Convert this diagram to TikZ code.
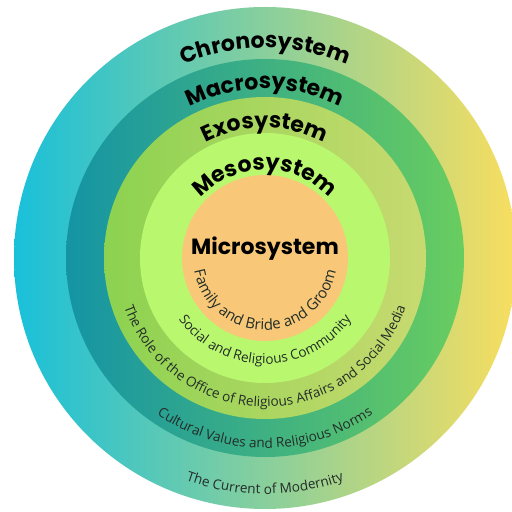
\documentclass[tikz,border=0pt]{standalone}
\usepackage{fontspec}
\usetikzlibrary{decorations.text}
\newfontfamily\headfont{Poppins}
\newfontfamily\bodyfont{Open Sans}
\newcommand{\sysfont}{\headfont\bfseries\fontsize{22}{26}\selectfont}
\newcommand{\bandfont}{\bodyfont\fontsize{13.6}{16}\selectfont}
\newcommand{\bandfontbig}{\bodyfont\fontsize{15}{17}\selectfont}
\definecolor{chronoL}{RGB}{25,192,218}
\definecolor{chronoM}{RGB}{130,205,165}
\definecolor{chronoR}{RGB}{248,222,95}
\definecolor{macroL}{RGB}{20,148,165}
\definecolor{macroM}{RGB}{45,170,130}
\definecolor{macroR}{RGB}{105,205,95}
\definecolor{exoL}{RGB}{140,210,80}
\definecolor{exoM}{RGB}{165,215,90}
\definecolor{exoR}{RGB}{200,218,112}
\definecolor{meso}{RGB}{185,248,110}
\definecolor{micro}{RGB}{248,200,120}
\definecolor{ink}{RGB}{35,45,40}

\begin{document}
\begin{tikzpicture}[x=1pt,y=1pt,
  sys/.style={decorate,decoration={text along path,text align=center,text={|\sysfont|#1}}},
  band/.style={decorate,decoration={text along path,text align=center,text color=ink,text={#1}}}]
  \clip (0,0) rectangle (512,512);
  \fill[white] (0,0) rectangle (512,512);
  \coordinate (c) at (265,254);
  % rings, outside in
  \shade[left color=chronoL,middle color=chronoM,right color=chronoR] (c) circle[radius=251pt];
  \shade[left color=macroL,middle color=macroM,right color=macroR] (c) circle[radius=199pt];
  \shade[left color=exoL,middle color=exoM,right color=exoR] (c) circle[radius=161pt];
  \fill[meso] (c) circle[radius=125pt];
  \fill[micro] (c) circle[radius=83pt];
  % system names
  \path[sys=Chronosystem] ([shift={(180:210pt)}]c) arc[start angle=180,end angle=0,radius=210pt];
  \path[sys=Macrosystem] ([shift={(180:169pt)}]c) arc[start angle=180,end angle=0,radius=169pt];
  \path[sys=Exosystem] ([shift={(180:130pt)}]c) arc[start angle=180,end angle=0,radius=130pt];
  \path[sys=Mesosystem] ([shift={(180:88pt)}]c) arc[start angle=180,end angle=0,radius=88pt];
  \node[font=\sysfont,anchor=base] (microname) at ([yshift=3pt]c) {Microsystem};
  % what each ring holds
  \path[band={|\bandfontbig|Family and Bride and Groom}] ([shift={(180:72pt)}]c) arc[start angle=180,end angle=360,radius=72pt];
  \path[band={|\bandfont|Social and Religious Community}] ([shift={(180:106pt)}]c) arc[start angle=180,end angle=360,radius=106pt];
  \path[band={|\bandfont|The Role of the Office of Religious Affairs and Social Media}] ([shift={(180:149pt)}]c) arc[start angle=180,end angle=360,radius=149pt];
  \path[band={|\bandfont|Cultural Values and Religious Norms}] ([shift={(180:190pt)}]c) arc[start angle=180,end angle=360,radius=190pt];
  \path[band={|\bandfont|The Current of Modernity}] ([shift={(180:236pt)}]c) arc[start angle=180,end angle=360,radius=236pt];
\end{tikzpicture}
\end{document}
